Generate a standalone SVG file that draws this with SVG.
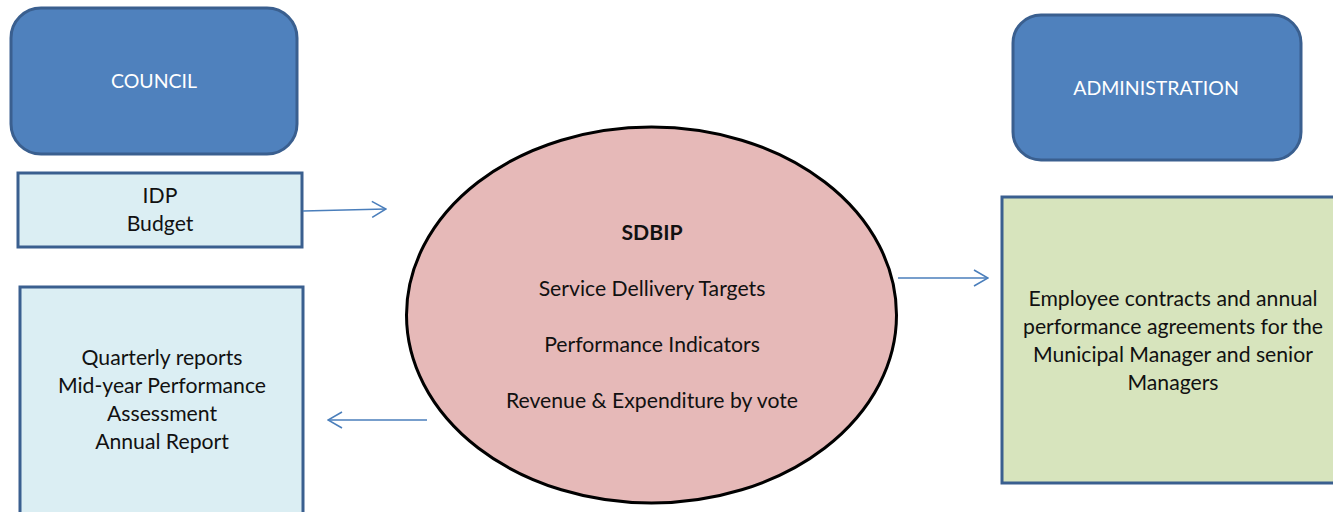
<svg xmlns="http://www.w3.org/2000/svg" width="1333" height="512" viewBox="0 0 1333 512">
<defs>
<style>
.hdr{fill:#4f81bd;stroke:#3a5f8f;stroke-width:3}
.box{stroke:#3a5f8f;stroke-width:3}
.t{font-family:Lato,"Open Sans","Liberation Sans",sans-serif;font-size:21.2px;fill:#111;text-anchor:middle}
.w{fill:#fff;font-size:19.5px}
.conn{stroke:#4a7ebb;stroke-width:1.6;fill:none}
</style>
<marker id="arr" viewBox="0 0 16 18" refX="15" refY="9" markerWidth="16" markerHeight="18" markerUnits="userSpaceOnUse" orient="auto">
<path d="M1,1 L15,9 L1,17" fill="none" stroke="#4a7ebb" stroke-width="1.6"/>
</marker>
</defs>
<rect width="1333" height="512" fill="#fff"/>
<g id="council">
<rect class="hdr" x="11" y="8" width="286" height="146" rx="30"/>
<text class="t w" x="154" y="88">COUNCIL</text>
</g>
<g id="idp">
<rect class="box" x="18" y="173" width="284" height="74" fill="#dbeef3"/>
<text class="t" x="160" y="203">IDP</text>
<text class="t" x="160" y="231">Budget</text>
</g>
<g id="reports">
<rect class="box" x="20" y="287" width="283" height="240" fill="#dbeef3"/>
<text class="t" x="162" y="365">Quarterly reports</text>
<text class="t" x="162" y="393">Mid-year Performance</text>
<text class="t" x="162" y="421">Assessment</text>
<text class="t" x="162" y="449">Annual Report</text>
</g>
<g id="sdbip">
<ellipse cx="651.5" cy="315" rx="245" ry="188" fill="#e6b9b8" stroke="#000" stroke-width="3"/>
<text class="t" x="652" y="240" font-weight="bold">SDBIP</text>
<text class="t" x="652" y="296">Service Dellivery Targets</text>
<text class="t" x="652" y="352">Performance Indicators</text>
<text class="t" x="652" y="408">Revenue &amp; Expenditure by vote</text>
</g>
<g id="administration">
<rect class="hdr" x="1013" y="15" width="288" height="145" rx="28"/>
<text class="t w" x="1156" y="95">ADMINISTRATION</text>
</g>
<g id="contracts">
<rect class="box" x="1002" y="197" width="345" height="286" fill="#d7e4bd"/>
<text class="t" x="1173" y="306">Employee contracts and annual</text>
<text class="t" x="1173" y="334">performance agreements for the</text>
<text class="t" x="1173" y="362">Municipal Manager and senior</text>
<text class="t" x="1173" y="390">Managers</text>
</g>
<g id="connectors">
<line class="conn" x1="303" y1="211" x2="386" y2="209" marker-end="url(#arr)"/>
<line class="conn" x1="427" y1="420" x2="328" y2="420" marker-end="url(#arr)"/>
<line class="conn" x1="898" y1="278" x2="988" y2="278" marker-end="url(#arr)"/>
</g>
</svg>
